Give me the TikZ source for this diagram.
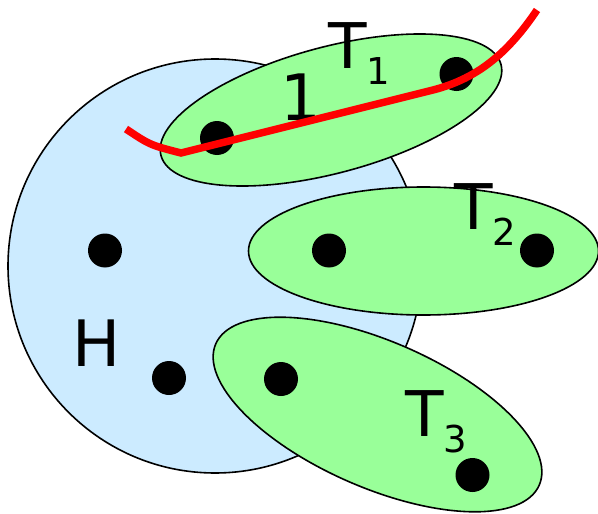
\documentclass[tikz,border=0pt]{standalone}
\usepackage{fontspec}
\setmainfont{DejaVu Sans}
\usepackage{tikz}
\usetikzlibrary{shapes.geometric}
\definecolor{hostblue}{HTML}{CCEBFF}
\definecolor{treegreen}{HTML}{99FF99}
\newcommand{\tsub}[1]{\raisebox{-16pt}{\fontsize{37}{40}\selectfont #1}}

\begin{document}
\begin{tikzpicture}[
    x=1pt, y=-1pt,
    host/.style={circle, draw=black, fill=hostblue, line width=1.6pt, inner sep=0pt, minimum size=414pt},
    tree/.style={ellipse, draw=black, fill=treegreen, line width=1.6pt, inner sep=0pt},
    vert/.style={circle, fill=black, inner sep=0pt, minimum size=34pt},
    cut/.style={draw=red, line width=7.5pt},
    big/.style={inner sep=0pt, font=\fontsize{63}{70}\selectfont}
]
\useasboundingbox (0,0) rectangle (598,514);

% Host and trees
\node[host] (h) at (215,266) {};
\node[tree, minimum width=352pt, minimum height=126pt, rotate=15] (t1) at (331,110) {};
\node[tree, minimum width=350pt, minimum height=128pt] (t2) at (423.5,251) {};
\node[tree, minimum width=353pt, minimum height=146pt, rotate=-23.6] (t3) at (377.5,414.5) {};

% Vertices
\node[vert] (v1) at (217,138) {};
\node[vert] (v2) at (456.5,74) {};
\node[vert] (v3) at (105,250.5) {};
\node[vert] (v4) at (329,250.5) {};
\node[vert] (v5) at (537,250.5) {};
\node[vert] (v6) at (169,378) {};
\node[vert] (v7) at (281,379) {};
\node[vert] (v8) at (472.5,475) {};

% Labels
\node[big, anchor=base west] (lt1) at (328,68) {T\tsub{1}};
\node[big, anchor=base west] (lt2) at (454,229) {T\tsub{2}};
\node[big, anchor=base west] (lt3) at (405,436.5) {T\tsub{3}};
\node[big, font=\fontsize{64}{70}\selectfont, anchor=base] (one) at (301,120) {1};
\node[big, font=\fontsize{64}{70}\selectfont, anchor=base] (lh) at (96.5,366.5) {H};

% Cut
\coordinate (c0) at (126,129);
\coordinate (c1) at (181,153);
\coordinate (c2) at (433,90);
\coordinate (c3) at (537,10);
\draw[cut] (c0) .. controls (150,145) .. (c1) -- (c2) .. controls (480,78) and (510,50) .. (c3);
\end{tikzpicture}
\end{document}
